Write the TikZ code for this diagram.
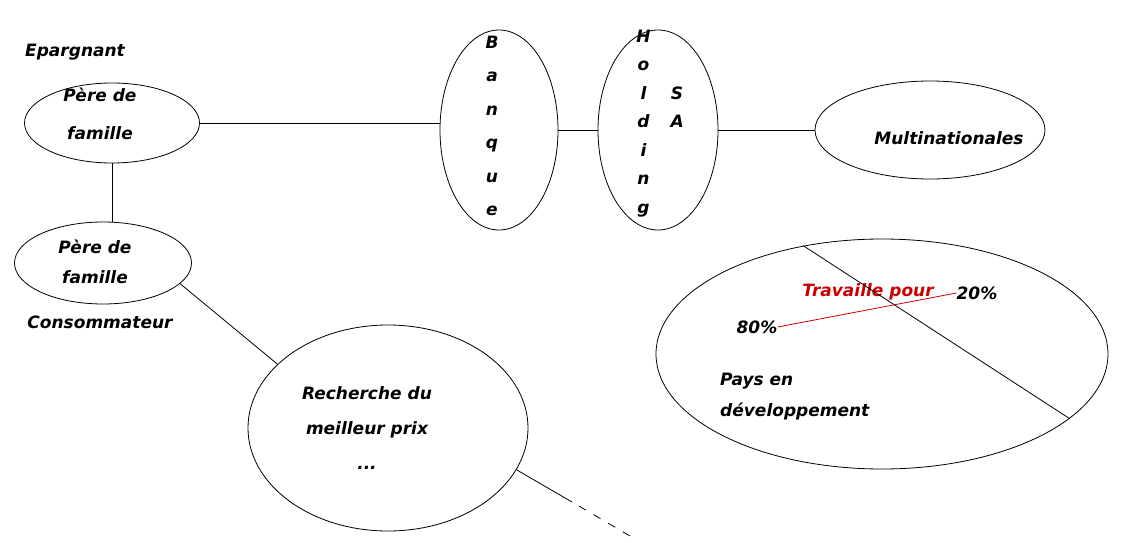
\documentclass[tikz,border=0pt]{standalone}
\usepackage{fontspec}
\setmainfont{DejaVu Sans}
\usetikzlibrary{shapes.geometric}
\tikzset{
  bulle/.style={draw,ellipse,line width=0.8pt,inner sep=0pt},
  mot/.style={font=\fontsize{17}{32}\selectfont\bfseries\itshape,align=center,inner sep=0pt},
  trait/.style={line width=0.8pt},
}
\begin{document}
\begin{tikzpicture}[x=1pt,y=-1pt]
	\useasboundingbox (0,0) rectangle (1136,543);
	% les bulles
	\node[name=epargne,bulle,minimum width=175,minimum height=80] at (112,123){};
	\node[name=conso,bulle,minimum width=177,minimum height=82] at (103,263){};
	\node[name=banque,bulle,minimum width=118,minimum height=200] at (499,130){};
	\node[name=holding,bulle,minimum width=120,minimum height=200] at (658,130){};
	\node[name=multi,bulle,minimum width=230,minimum height=98] at (930,130){};
	\node[name=prix,bulle,minimum width=280,minimum height=206] at (388,428){};
	\node[name=pays,bulle,minimum width=452,minimum height=230] at (882,354){};
	% les textes
	\node[name=epargnant,mot] at (75,52){Epargnant};
	\node[name=epargnetxt,mot] at (100,114){Père de\\[6pt]famille};
	\node[name=consotxt,mot] at (95,262){Père de\\[-2pt]famille};
	\node[name=consommateur,mot] at (100,322){Consommateur};
	\node[name=banquetxt,mot,font=\fontsize{17}{33.4}\selectfont\bfseries\itshape] at (492,126){B\\a\\n\\q\\u\\e};
	\node[name=holdingtxt,mot,font=\fontsize{17}{28.5}\selectfont\bfseries\itshape] at (660,122){%
		\begin{tabular}{@{}c@{\hspace{20pt}}c@{}}
			H&\\ o&\\ l&S\\ d&A\\ i&\\ n&\\ g&
		\end{tabular}};
	\node[name=multitxt,mot] at (949,138){Multinationales};
	\node[name=prixtxt,mot,font=\fontsize{17}{35}\selectfont\bfseries\itshape] at (367,428){Recherche du\\meilleur prix\\...};
	\node[name=paystxt,mot,align=left,anchor=west,font=\fontsize{17}{31}\selectfont\bfseries\itshape] at (720,397){Pays en\\développement};
	\node[name=p80,mot] at (757,327){80\%};
	\node[name=p20,mot] at (977,293){20\%};
	\node[name=travail,mot,text=red!80!black] at (868,292){Travaille pour};
	% les liens
	\draw[trait] (epargne.east) -- (epargne.east -| banque.west);
	\draw[trait] (epargne.south) -- (epargne.south |- conso.north);
	\draw[trait] (banque.east) -- (holding.west);
	\draw[trait] (holding.east) -- (multi.west);
	\draw[trait] (conso.-15) -- (prix.150);
	\coordinate (coupure) at (572,502);
	\coordinate (fin) at (630,536);
	\draw[trait] (prix.-18) -- (coupure);
	\draw[trait,dash pattern=on 8pt off 9pt,dash phase=9pt] (coupure) -- (fin);
	\draw[trait] (pays.126) -- (pays.-19);
	\draw[trait,red!80!black] (p80.east) -- (p20.west);
\end{tikzpicture}
\end{document}
